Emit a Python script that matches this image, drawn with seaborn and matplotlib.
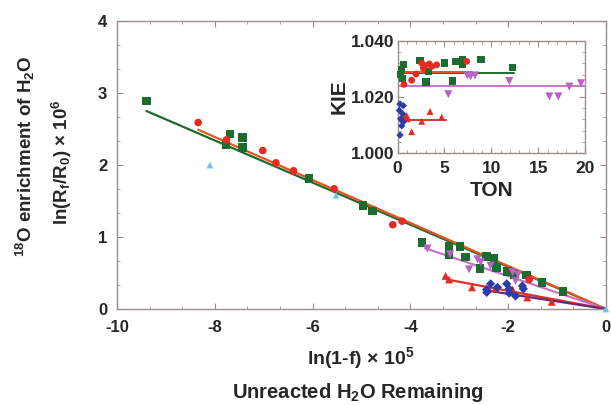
import matplotlib
matplotlib.use("Agg")
import matplotlib.pyplot as plt
from matplotlib.ticker import AutoMinorLocator
from matplotlib.font_manager import FontProperties
import seaborn as sns
import pandas as pd
import numpy as np

# main plot: ln(1-f) x 1e5 vs ln(Rf/R0) x 1e6
green_x = [-9.40, -7.69, -7.43, -7.77, -7.43, -6.07, -4.97, -4.78, -3.76, -3.21, -2.99,
           -3.21, -2.87, -2.44, -2.29, -2.58, -2.24, -2.02, -1.88, -1.63, -1.31, -0.88]
green_y = [2.89, 2.43, 2.38, 2.28, 2.24, 1.81, 1.44, 1.36, 0.92, 0.87, 0.87,
           0.75, 0.72, 0.73, 0.70, 0.56, 0.58, 0.52, 0.48, 0.47, 0.37, 0.24]
red_x = [-8.34, -7.76, -7.02, -6.75, -6.39, -5.56, -4.36, -4.17, -1.57]
red_y = [2.59, 2.35, 2.20, 2.03, 1.92, 1.67, 1.17, 1.22, 0.41]
cyan_x = [-8.10, -5.52, 0.0]
cyan_y = [2.00, 1.58, 0.0]
purple_x = [-3.65, -3.19, -2.63, -2.56, -2.80, -2.36, -1.91, -1.80, -1.85]
purple_y = [0.84, 0.76, 0.69, 0.65, 0.55, 0.60, 0.51, 0.48, 0.39]
redtri_x = [-3.28, -3.21, -2.74, -2.26, -1.91, -1.61, -1.11]
redtri_y = [0.46, 0.41, 0.30, 0.29, 0.27, 0.16, 0.10]
blue_x = [-2.44, -2.36, -2.44, -2.22, -2.03, -1.98, -1.98, -1.85, -1.71, -1.69]
blue_y = [0.27, 0.35, 0.23, 0.30, 0.35, 0.28, 0.22, 0.18, 0.32, 0.28]

# fitted lines through the origin: start x, slope
fit_start = {"green": -9.40, "red": -8.34, "purple": -3.70, "redtri": -3.25, "blue": -2.45}
fit_slope = {"green": -0.2926, "red": -0.2986, "purple": -0.228, "redtri": -0.126, "blue": -0.105}

main_xticks = [-10, -8, -6, -4, -2, 0]
main_yticks = [0, 1, 2, 3, 4]

# inset: KIE vs TON
kie_green_x = [0.62, 0.45, 0.34, 0.55, 2.4, 3.04, 3.29, 5.0, 5.9, 6.24, 6.95, 6.95, 8.9, 12.29]
kie_green_y = [1.0315, 1.0298, 1.0280, 1.0265, 1.0330, 1.0253, 1.0292, 1.0321, 1.0257,
               1.0327, 1.0333, 1.0315, 1.0333, 1.0306]
kie_red_x = [0.69, 1.51, 1.97, 2.58, 2.76, 2.93, 3.39, 3.65, 4.18, 7.38]
kie_red_y = [1.0245, 1.0260, 1.0282, 1.0321, 1.0303, 1.0312, 1.0318, 1.0309, 1.0315, 1.0327]
kie_purple_x = [5.42, 7.45, 7.8, 8.27, 11.93, 16.2, 17.15, 18.33, 19.57]
kie_purple_y = [1.0210, 1.0277, 1.0274, 1.0277, 1.0257, 1.0202, 1.0202, 1.0237, 1.0249]
kie_redtri_x = [0.8, 0.98, 1.05, 1.51, 2.58, 3.47, 4.71]
kie_redtri_y = [1.0132, 1.0134, 1.0122, 1.0076, 1.0113, 1.0148, 1.0128]
kie_blue_x = [0.27, 0.62, 0.2, 0.55, 0.34, 0.62, 0.45, 0.27]
kie_blue_y = [1.0175, 1.0169, 1.0152, 1.0140, 1.0122, 1.0111, 1.0097, 1.0064]

# mean KIE lines: end TON, level
kie_end = {"green": 12.4, "red": 7.9, "purple": 20.0, "redtri": 5.2, "blue": 0.8}
kie_mean = {"green": 1.0285, "red": 1.0291, "purple": 1.0239, "redtri": 1.0118, "blue": 1.0113}

ins_xticks = [0, 5, 10, 15, 20]
ins_yticks = [1.000, 1.020, 1.040]

colors = {"green": "#1d6b2e", "red": "#e82a24", "cyan": "#6cc4ef", "purple": "#b564c4",
          "redtri": "#e42a22", "blue": "#2c3caa"}
line_colors = {"green": "#1f6a2a", "red": "#e8541e", "purple": "#c476cc",
               "redtri": "#d8322a", "blue": "#6a2c6e"}
spine_c = "#9c8e8a"

sns.set_style("ticks")
plt.rcParams["font.family"] = ["Liberation Sans", "DejaVu Sans"]
plt.rcParams["font.weight"] = "bold"
plt.rcParams["axes.unicode_minus"] = False
plt.rcParams["mathtext.fontset"] = "custom"
plt.rcParams["mathtext.rm"] = "Liberation Sans:bold"
plt.rcParams["mathtext.it"] = "Liberation Sans:bold:italic"
plt.rcParams["mathtext.bf"] = "Liberation Sans:bold"

fig = plt.figure(figsize=(6.11, 4.05), dpi=100)
ax = fig.add_axes([117 / 611, 1 - 309 / 405, (606 - 117) / 611, (309 - 21) / 405])


def style_axes(a, xpad, ypad):
    for s in a.spines.values():
        s.set_color(spine_c)
        s.set_linewidth(1.0)
    a.tick_params(which="both", direction="in", top=True, right=True, color=spine_c)
    a.tick_params(axis="x", which="major", length=4, pad=xpad)
    a.tick_params(axis="y", which="major", length=4, pad=ypad)
    a.tick_params(which="minor", length=2.5)


# fitted lines
for key in ["green", "red", "purple", "redtri", "blue"]:
    xs = np.array([fit_start[key], 0.0])
    d = pd.DataFrame({"x": xs, "y": fit_slope[key] * xs})
    sns.lineplot(data=d, x="x", y="y", ax=ax, color=line_colors[key], lw=1.6, zorder=2)

main_sets = [
    ("green", green_x, green_y, "s", 38),
    ("red", red_x, red_y, "o", 30),
    ("purple", purple_x, purple_y, "v", 34),
    ("redtri", redtri_x, redtri_y, "^", 32),
    ("blue", blue_x, blue_y, "D", 22),
    ("cyan", cyan_x, cyan_y, "^", 24),
]
for key, xs, ys, m, s in main_sets:
    d = pd.DataFrame({"x": xs, "y": ys})
    sns.scatterplot(data=d, x="x", y="y", ax=ax, marker=m, s=s, color=colors[key],
                    edgecolor="none", zorder=3, clip_on=False)

tick_fp = FontProperties(family="Liberation Sans", weight="bold", size=12)
ax.set_xlim(-10, 0)
ax.set_ylim(0, 4)
ax.set_xticks(main_xticks, [str(t) for t in main_xticks], fontproperties=tick_fp)
ax.set_yticks(main_yticks, [str(t) for t in main_yticks], fontproperties=tick_fp)
ax.xaxis.set_minor_locator(AutoMinorLocator(3))
ax.yaxis.set_minor_locator(AutoMinorLocator(3))
ax.set_xlabel("")
ax.set_ylabel("")
style_axes(ax, 8, 7)

fig.text(0.042, 0.615, r"$^{18}$O enrichment of H$_2$O", rotation=90, ha="center",
         va="center", fontsize=13.5, fontweight="bold")
fig.text(0.102, 0.60, r"ln(R$_\mathrm{f}$/R$_0$) × 10$^6$", rotation=90, ha="center",
         va="center", fontsize=13.5, fontweight="bold")
fig.text(361 / 611, 1 - 358 / 405, r"ln(1-f) × 10$^5$", ha="center", va="center",
         fontsize=14, fontweight="bold")
fig.text(358 / 611, 1 - 392 / 405, r"Unreacted H$_2$O Remaining", ha="center",
         va="center", fontsize=14.5, fontweight="bold")

# inset
ins = fig.add_axes([397.5 / 611, 1 - 153 / 405, (585 - 397.5) / 611, (153 - 41) / 405])
for key in ["green", "red", "purple", "redtri", "blue"]:
    d = pd.DataFrame({"x": [0.0, kie_end[key]], "y": [kie_mean[key]] * 2})
    sns.lineplot(data=d, x="x", y="y", ax=ins, color=line_colors[key], lw=1.4, zorder=2)

ins_sets = [
    ("green", kie_green_x, kie_green_y, "s", 28),
    ("red", kie_red_x, kie_red_y, "o", 24),
    ("purple", kie_purple_x, kie_purple_y, "v", 34),
    ("redtri", kie_redtri_x, kie_redtri_y, "^", 24),
    ("blue", kie_blue_x, kie_blue_y, "D", 14),
]
for key, xs, ys, m, s in ins_sets:
    d = pd.DataFrame({"x": xs, "y": ys})
    sns.scatterplot(data=d, x="x", y="y", ax=ins, marker=m, s=s, color=colors[key],
                    edgecolor="none", zorder=3, clip_on=False)

ins_fp = FontProperties(family="Liberation Sans", weight="bold", size=12.5)
ins.set_xlim(0, 20)
ins.set_ylim(1.0, 1.04)
ins.set_xticks(ins_xticks, [str(t) for t in ins_xticks], fontproperties=ins_fp)
ins.set_yticks(ins_yticks, [f"{t:.3f}" for t in ins_yticks], fontproperties=ins_fp)
ins.xaxis.set_minor_locator(AutoMinorLocator(5))
ins.yaxis.set_minor_locator(AutoMinorLocator(5))
style_axes(ins, 6, 2)
ins.set_xlabel("TON", fontsize=15, fontweight="bold", labelpad=3)
ins.set_ylabel("KIE", fontsize=15, fontweight="bold", labelpad=2)

fig.savefig("out.png", dpi=100)
